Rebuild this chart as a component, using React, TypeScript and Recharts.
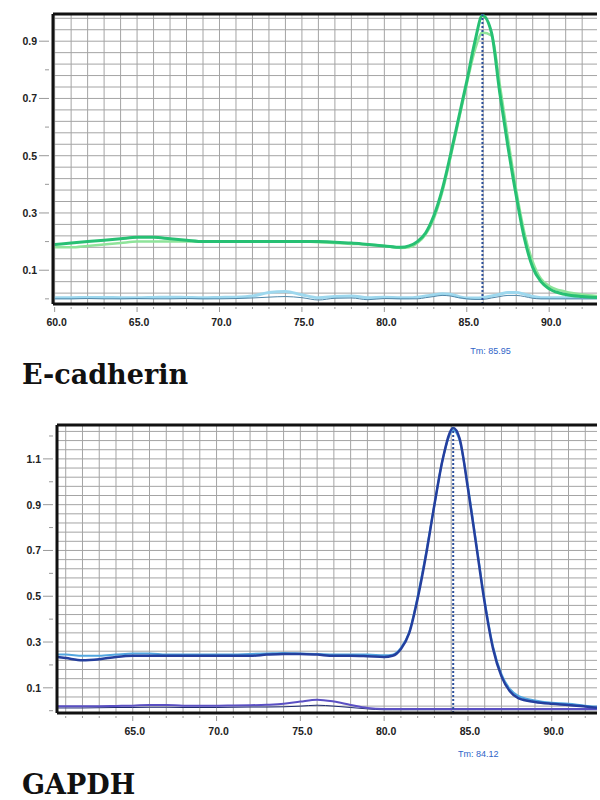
import React from "react";
import {
  LineChart,
  Line,
  XAxis,
  YAxis,
  CartesianGrid,
  ReferenceLine,
} from "recharts";

// E-cadherin melt curve
const ecadTemps = [
  60, 61, 62, 63, 64, 65, 66, 67, 68, 69, 70, 71, 72, 73, 74, 75, 76, 77, 78, 79, 80, 81,
  81.5, 82, 82.5, 83, 83.5, 84, 84.5, 85, 85.5, 85.95, 86.5, 87, 87.5, 88, 88.5, 89, 89.5,
  90, 91, 92, 92.9,
];
const ecadGreenA = [
  0.19, 0.195, 0.2, 0.205, 0.21, 0.215, 0.215, 0.21, 0.205, 0.2, 0.2, 0.2, 0.2, 0.2, 0.2,
  0.2, 0.2, 0.198, 0.195, 0.19, 0.185, 0.18, 0.185, 0.2, 0.23, 0.29, 0.38, 0.5, 0.63, 0.76,
  0.9, 0.99, 0.93, 0.72, 0.53, 0.36, 0.21, 0.11, 0.06, 0.035, 0.015, 0.008, 0.005,
];
const ecadGreenB = [
  0.18, 0.18, 0.185, 0.19, 0.195, 0.2, 0.2, 0.2, 0.2, 0.2, 0.2, 0.2, 0.2, 0.2, 0.2, 0.2,
  0.198, 0.195, 0.192, 0.19, 0.185, 0.178, 0.18, 0.195, 0.225, 0.28, 0.37, 0.49, 0.62, 0.75,
  0.87, 0.93, 0.92, 0.75, 0.56, 0.38, 0.23, 0.13, 0.07, 0.045, 0.025, 0.015, 0.01,
];
const ecadNtcA = [
  0.004, 0.004, 0.005, 0.005, 0.004, 0.004, 0.005, 0.006, 0.005, 0.004, 0.005, 0.006,
  0.01, 0.022, 0.026, 0.014, 0.004, 0.008, 0.01, 0.004, 0.006, 0.004, 0.004, 0.006, 0.01,
  0.014, 0.018, 0.016, 0.008, 0.003, 0.003, 0.004, 0.01, 0.016, 0.022, 0.022, 0.016, 0.008,
  0.004, 0.004, 0.004, 0.004, 0.004,
];
const ecadNtcB = [
  0.0, 0.0, 0.001, 0.0, 0.0, 0.001, 0.0, 0.0, 0.001, 0.0, 0.0, 0.001, 0.003, 0.006, 0.008,
  0.004, -0.004, 0.002, 0.003, -0.003, 0.001, 0.0, 0.0, 0.0, 0.004, 0.008, 0.012, 0.01,
  0.004, 0.0, -0.002, -0.002, 0.003, 0.008, 0.012, 0.012, 0.008, 0.002, 0.0, 0.0, 0.0, 0.0,
  0.0,
];

// GAPDH melt curve
const gapdhTemps = [
  60.5, 61, 62, 63, 64, 65, 66, 67, 68, 69, 70, 71, 72, 73, 74, 75, 76, 77, 78, 79, 80,
  80.5, 81, 81.5, 82, 82.5, 83, 83.5, 84.12, 84.5, 85, 85.5, 86, 86.5, 87, 87.5, 88, 89, 90,
  91, 92, 92.7,
];
const gapdhBlueA = [
  0.235, 0.23, 0.22, 0.225, 0.235, 0.24, 0.24, 0.24, 0.24, 0.24, 0.24, 0.24, 0.24, 0.245,
  0.248, 0.248, 0.245, 0.24, 0.24, 0.238, 0.235, 0.24, 0.27, 0.34, 0.49, 0.68, 0.9, 1.1,
  1.235, 1.19, 0.97, 0.72, 0.47, 0.27, 0.15, 0.085, 0.055, 0.038, 0.03, 0.025, 0.018, 0.013,
];
const gapdhBlueB = [
  0.245, 0.245, 0.24, 0.24, 0.245, 0.25, 0.25, 0.245, 0.245, 0.245, 0.245, 0.245, 0.248,
  0.25, 0.252, 0.25, 0.248, 0.245, 0.245, 0.245, 0.242, 0.245, 0.275, 0.345, 0.5, 0.69,
  0.9, 1.1, 1.225, 1.18, 0.98, 0.73, 0.48, 0.28, 0.16, 0.095, 0.065, 0.045, 0.035, 0.03,
  0.022, 0.018,
];
const gapdhNtcA = [
  0.02, 0.02, 0.02, 0.02, 0.021, 0.022, 0.025, 0.025, 0.022, 0.022, 0.022, 0.023, 0.024,
  0.026, 0.03, 0.04, 0.048, 0.04, 0.025, 0.012, 0.008, 0.008, 0.008, 0.008, 0.008, 0.008,
  0.008, 0.008, 0.008, 0.008, 0.008, 0.008, 0.008, 0.008, 0.008, 0.008, 0.008, 0.008,
  0.008, 0.008, 0.008, 0.008,
];
const gapdhNtcB = [
  0.012, 0.012, 0.012, 0.013, 0.014, 0.014, 0.015, 0.015, 0.014, 0.014, 0.014, 0.015,
  0.016, 0.016, 0.017, 0.02, 0.024, 0.02, 0.014, 0.008, 0.004, 0.004, 0.004, 0.004, 0.004,
  0.004, 0.004, 0.004, 0.004, 0.004, 0.004, 0.004, 0.004, 0.004, 0.004, 0.004, 0.004,
  0.004, 0.004, 0.004, 0.004, 0.004,
];

const ecadXTicks = [60, 61, 62, 63, 64, 65, 66, 67, 68, 69, 70, 71, 72, 73, 74, 75, 76, 77, 78, 79, 80, 81, 82, 83, 84, 85, 86, 87, 88, 89, 90, 91, 92];
const gapdhXTicks = [61, 62, 63, 64, 65, 66, 67, 68, 69, 70, 71, 72, 73, 74, 75, 76, 77, 78, 79, 80, 81, 82, 83, 84, 85, 86, 87, 88, 89, 90, 91, 92];
const ecadYTicks = [0, 0.1, 0.2, 0.3, 0.4, 0.5, 0.6, 0.7, 0.8, 0.9];
const gapdhYTicks = [0, 0.1, 0.2, 0.3, 0.4, 0.5, 0.6, 0.7, 0.8, 0.9, 1.0, 1.1, 1.2];
const ecadYLabels = [0.1, 0.3, 0.5, 0.7, 0.9];
const gapdhYLabels = [0.1, 0.3, 0.5, 0.7, 0.9, 1.1];
const ecadHGrid = [-0.02, 0.02, 0.06, 0.1, 0.14, 0.18, 0.22, 0.26, 0.3, 0.34, 0.38, 0.42, 0.46, 0.5, 0.54, 0.58, 0.62, 0.66, 0.7, 0.74, 0.78, 0.82, 0.86, 0.9, 0.94, 0.98];
const gapdhHGrid = [0.02, 0.06, 0.1, 0.14, 0.18, 0.22, 0.26, 0.3, 0.34, 0.38, 0.42, 0.46, 0.5, 0.54, 0.58, 0.62, 0.66, 0.7, 0.74, 0.78, 0.82, 0.86, 0.9, 0.94, 0.98, 1.02, 1.06, 1.1, 1.14, 1.18, 1.22];

const ecadData = ecadTemps.map((t, i) => ({
  t,
  a: ecadGreenA[i],
  b: ecadGreenB[i],
  n1: ecadNtcA[i],
  n2: ecadNtcB[i],
}));
const gapdhData = gapdhTemps.map((t, i) => ({
  t,
  a: gapdhBlueA[i],
  b: gapdhBlueB[i],
  n1: gapdhNtcA[i],
  n2: gapdhNtcB[i],
}));

const tickFont = "'Liberation Sans', Arial, sans-serif";

function XTick(props: any) {
  const { x, y, payload } = props;
  const v = payload.value;
  const major = v % 5 === 0;
  return (
    <g>
      <line x1={x} x2={x} y1={y + 3} y2={y + (major ? 8 : 5)} stroke="#999" strokeWidth={1} />
      {major && (
        <text
          x={x + 2}
          y={y + 22}
          textAnchor="middle"
          fontFamily={tickFont}
          fontSize={10.5}
          fontWeight="bold"
          fill="#222"
        >
          {v.toFixed(1)}
        </text>
      )}
    </g>
  );
}

function makeYTick(labels: number[]) {
  return function YTick(props: any) {
    const { x, y, payload } = props;
    const v = payload.value;
    const major = labels.some((l) => Math.abs(l - v) < 1e-6);
    return (
      <g>
        <line x1={x - (major ? 14 : 8)} x2={x - 4} y1={y} y2={y} stroke="#999" strokeWidth={1} />
        {major && (
          <text
            x={x - 16}
            y={y + 4}
            textAnchor="end"
            fontFamily={tickFont}
            fontSize={10.5}
            fontWeight="bold"
            fill="#222"
          >
            {v.toFixed(1)}
          </text>
        )}
      </g>
    );
  };
}

function tmLabel(text: string, dx: number, dy: number) {
  return (props: any) => {
    const vb = props.viewBox || {};
    return (
      <text
        x={vb.x + dx}
        y={vb.y + vb.height + dy}
        textAnchor="middle"
        fontFamily={tickFont}
        fontSize={9}
        fill="#2f64c8"
      >
        {text}
      </text>
    );
  };
}

const titleStyle: React.CSSProperties = {
  position: "absolute",
  left: 22,
  fontFamily: "'DejaVu Serif', serif",
  fontWeight: "bold",
  fontSize: 27,
  color: "#111",
  lineHeight: "30px",
};

export default function App() {
  return (
    <div style={{ position: "absolute", left: 0, top: 0, width: 600, height: 800, background: "#fff" }}>
      <div style={{ position: "absolute", left: 0, top: 0 }}>
        <LineChart width={600} height={370} data={ecadData} margin={{ top: 14, right: 3, left: 0, bottom: 30 }}>
          <CartesianGrid
            stroke="#a4a4a4"
            strokeWidth={1}
            horizontalValues={ecadHGrid}
            verticalValues={ecadXTicks}
          />
          <XAxis
            dataKey="t"
            type="number"
            domain={[59.9, 92.9]}
            ticks={ecadXTicks}
            interval={0}
            allowDataOverflow
            tickSize={0}
            tickMargin={0}
            tick={<XTick />}
            axisLine={{ stroke: "#111", strokeWidth: 3 }}
            height={36}
          />
          <YAxis
            type="number"
            domain={[-0.018, 0.995]}
            ticks={ecadYTicks}
            interval={0}
            allowDataOverflow
            tickSize={0}
            tickMargin={0}
            tick={makeYTick(ecadYLabels)}
            axisLine={{ stroke: "#111", strokeWidth: 3 }}
            width={53}
          />
          <ReferenceLine y={0.995} stroke="#111" strokeWidth={3} />
          <Line dataKey="n1" type="monotone" stroke="#9ed8ee" strokeWidth={3} dot={false} isAnimationActive={false} />
          <Line dataKey="n2" type="monotone" stroke="#4f86a8" strokeWidth={1} dot={false} isAnimationActive={false} />
          <Line dataKey="b" type="monotone" stroke="#8fe49a" strokeWidth={2.5} dot={false} isAnimationActive={false} />
          <Line dataKey="a" type="monotone" stroke="#27c073" strokeWidth={3} dot={false} isAnimationActive={false} />
          <ReferenceLine
            x={85.95}
            stroke="#2b4f9c"
            strokeWidth={2}
            strokeDasharray="2 2"
            label={tmLabel("Tm: 85.95", 8, 50)}
          />
        </LineChart>
      </div>
      <div style={{ ...titleStyle, top: 360 }}>E-cadherin</div>

      <div style={{ position: "absolute", left: 0, top: 400 }}>
        <LineChart width={600} height={380} data={gapdhData} margin={{ top: 25, right: 3, left: 0, bottom: 35 }}>
          <CartesianGrid
            stroke="#a4a4a4"
            strokeWidth={1}
            horizontalValues={gapdhHGrid}
            verticalValues={gapdhXTicks}
          />
          <XAxis
            dataKey="t"
            type="number"
            domain={[60.48, 92.7]}
            ticks={gapdhXTicks}
            interval={0}
            allowDataOverflow
            tickSize={0}
            tickMargin={0}
            tick={<XTick />}
            axisLine={{ stroke: "#111", strokeWidth: 3 }}
            height={32}
          />
          <YAxis
            type="number"
            domain={[-0.01, 1.248]}
            ticks={gapdhYTicks}
            interval={0}
            allowDataOverflow
            tickSize={0}
            tickMargin={0}
            tick={makeYTick(gapdhYLabels)}
            axisLine={{ stroke: "#111", strokeWidth: 3 }}
            width={57}
          />
          <ReferenceLine y={1.248} stroke="#111" strokeWidth={3} />
          <Line dataKey="n2" type="monotone" stroke="#1e2a70" strokeWidth={1} dot={false} isAnimationActive={false} />
          <Line dataKey="n1" type="monotone" stroke="#5b50c4" strokeWidth={2} dot={false} isAnimationActive={false} />
          <Line dataKey="b" type="monotone" stroke="#52a6e0" strokeWidth={2} dot={false} isAnimationActive={false} />
          <Line dataKey="a" type="monotone" stroke="#243f9e" strokeWidth={2.5} dot={false} isAnimationActive={false} />
          <ReferenceLine
            x={84.12}
            stroke="#2b4f9c"
            strokeWidth={2}
            strokeDasharray="2 2"
            label={tmLabel("Tm: 84.12", 25, 44)}
          />
        </LineChart>
      </div>
      <div style={{ ...titleStyle, top: 770 }}>GAPDH</div>
    </div>
  );
}
